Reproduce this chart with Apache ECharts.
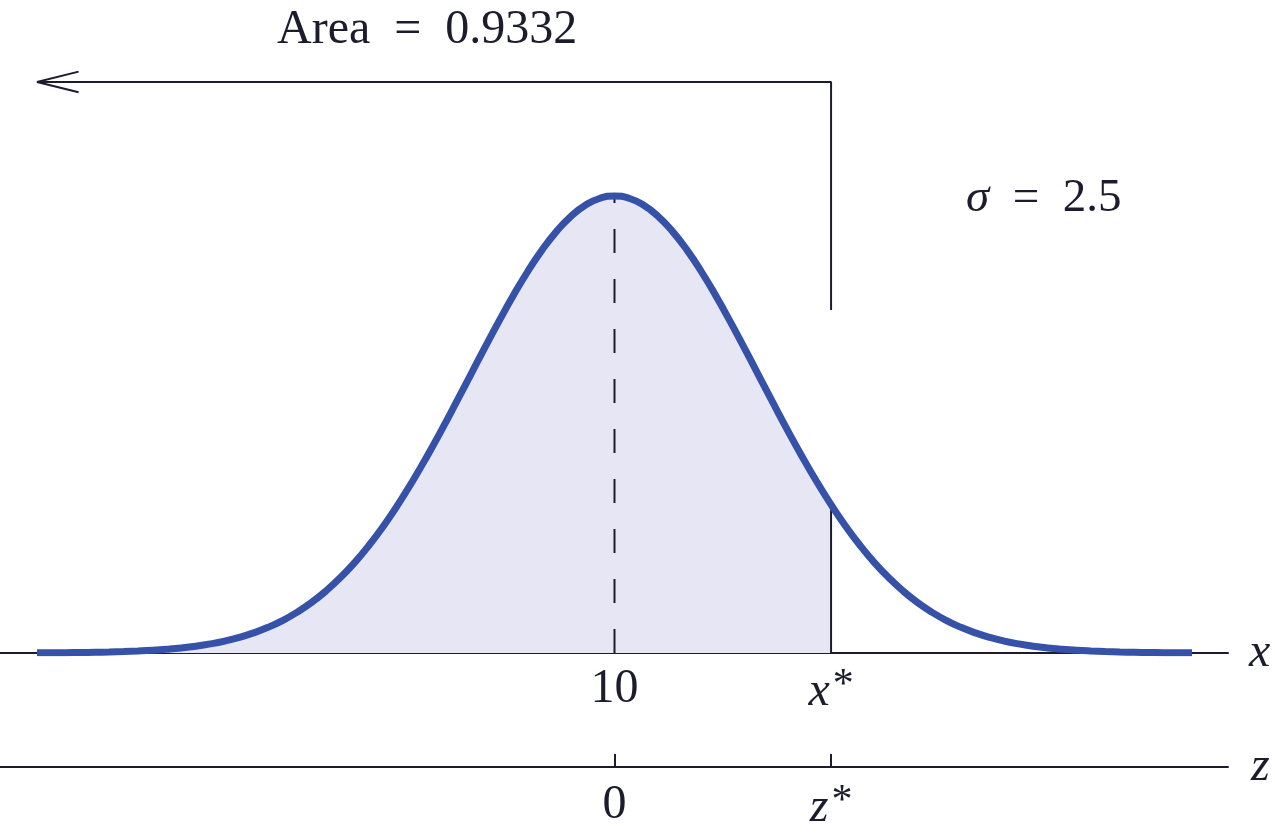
<!DOCTYPE html>
<html>
<head>
<meta charset="utf-8">
<script src="https://cdn.jsdelivr.net/npm/echarts@6/dist/echarts.min.js"></script>
<style>
html,body{margin:0;padding:0;background:#fff;}
#chart{width:1275px;height:833px;}
</style>
</head>
<body>
<div id="chart"></div>
<script>
// ---- data ----
const xValues = [0,0.25,0.5,0.75,1,1.25,1.5,1.75,2,2.25,2.5,2.75,3,3.25,3.5,3.75,4,4.25,4.5,4.75,
  5,5.25,5.5,5.75,6,6.25,6.5,6.75,7,7.25,7.5,7.75,8,8.25,8.5,8.75,9,9.25,9.5,9.75,
  10,10.25,10.5,10.75,11,11.25,11.5,11.75,12,12.25,12.5,12.75,13,13.25,13.5,13.75,
  14,14.25,14.5,14.75,15,15.25,15.5,15.75,16,16.25,16.5,16.75,17,17.25,17.5,17.75,
  18,18.25,18.5,18.75,19,19.25,19.5,19.75,20];
const densityValues = [0.00005,0.00008,0.00012,0.00017,0.00025,0.00035,0.00049,0.00069,0.00095,0.00131,
  0.00177,0.00238,0.00317,0.00417,0.00543,0.00701,0.00896,0.01133,0.01419,0.01759,
  0.02160,0.02625,0.03158,0.03762,0.04437,0.05181,0.05989,0.06855,0.07767,0.08714,
  0.09679,0.10643,0.11588,0.12490,0.13329,0.14083,0.14731,0.15256,0.15642,0.15878,
  0.15958,
  0.15878,0.15642,0.15256,0.14731,0.14083,0.13329,0.12490,0.11588,0.10643,0.09679,
  0.08714,0.07767,0.06855,0.05989,0.05181,0.04437,0.03762,0.03158,0.02625,0.02160,
  0.01759,0.01419,0.01133,0.00896,0.00701,0.00543,0.00417,0.00317,0.00238,0.00177,
  0.00131,0.00095,0.00069,0.00049,0.00035,0.00025,0.00017,0.00012,0.00008,0.00005];
const meanX = 10;
const sigma = 2.5;
const xStar = 13.75;
const zStar = 1.5;
const areaText = 'Area  =  0.9332';
const sigmaSymbol = '\u03C3';
const sigmaRest = '  =  2.5';
const bracketTop = 0.1994;
const bracketBottom = 0.1198;
const xTickValues = [10, 13.75];
const xTickLabels = ['10', 'x*'];
const zTickValues = [0, 1.5];
const zTickLabels = ['0', 'z*'];

// ---- build series data ----
const curveData = xValues.map((x, i) => [x, densityValues[i]]);
const shadeData = curveData.filter(p => p[0] <= xStar);
const peak = densityValues[xValues.indexOf(meanX)];
const starDensity = densityValues[xValues.indexOf(xStar)];

const xMin = -0.6407, xMax = 20.6234;
const zMin = (xMin - meanX) / sigma, zMax = (xMax - meanX) / sigma;

const FONT = 'Liberation Serif';
const INK = '#1c1c2c';

function tickFormatter(values, labels) {
  return function (v) {
    let idx = values.findIndex(t => Math.abs(t - v) < 1e-6);
    if (idx < 0) return '';
    const lab = labels[idx];
    if (lab.indexOf('*') >= 0) {
      return '{i|' + lab.replace('*', '') + '}{s|*}';
    }
    return '{n|' + lab + '}';
  };
}
const richLabel = {
  n: { fontFamily: FONT, fontSize: 48, color: INK },
  i: { fontFamily: FONT, fontSize: 48, fontStyle: 'italic', color: INK },
  s: { fontFamily: FONT, fontSize: 42, color: INK, padding: [0, 0, 12, 3] }
};

const chart = echarts.init(document.getElementById('chart'), null, { renderer: 'canvas' });
chart.setOption({
  animation: false,
  backgroundColor: '#ffffff',
  grid: [
    { left: 0, right: 47, top: 0, bottom: 180, containLabel: false },
    { left: 0, right: 47, top: 700, bottom: 66, containLabel: false }
  ],
  xAxis: [
    {
      gridIndex: 0, type: 'value', min: xMin, max: xMax,
      splitLine: { show: false },
      axisLine: { show: true, lineStyle: { color: INK, width: 2 } },
      axisTick: { show: false },
      axisLabel: {
        show: true, customValues: xTickValues, margin: 12,
        formatter: tickFormatter(xTickValues, xTickLabels), rich: richLabel
      },
      name: 'x', nameLocation: 'end', nameGap: 21,
      nameTextStyle: { fontFamily: FONT, fontSize: 48, fontStyle: 'italic', color: INK, verticalAlign: 'middle' }
    },
    {
      gridIndex: 1, type: 'value', min: zMin, max: zMax,
      splitLine: { show: false },
      axisLine: { show: true, lineStyle: { color: INK, width: 2 } },
      axisTick: { show: true, customValues: zTickValues, inside: true, length: 13, lineStyle: { color: INK, width: 2 } },
      axisLabel: {
        show: true, customValues: zTickValues, margin: 14,
        formatter: tickFormatter(zTickValues, zTickLabels), rich: richLabel
      },
      name: 'z', nameLocation: 'end', nameGap: 23,
      nameTextStyle: { fontFamily: FONT, fontSize: 48, fontStyle: 'italic', color: INK, verticalAlign: 'middle' }
    }
  ],
  yAxis: [
    { gridIndex: 0, type: 'value', min: 0, max: 0.228, show: false },
    { gridIndex: 1, type: 'value', min: 0, max: 1, show: false }
  ],
  series: [
    {
      name: 'shade', type: 'line', xAxisIndex: 0, yAxisIndex: 0,
      data: shadeData, smooth: true, showSymbol: false, symbol: 'none',
      lineStyle: { width: 0, opacity: 0 },
      areaStyle: { color: '#e6e6f4', opacity: 1 },
      z: 1
    },
    {
      name: 'boundary', type: 'line', xAxisIndex: 0, yAxisIndex: 0,
      data: [[xStar, 0], [xStar, starDensity]], symbol: 'none',
      lineStyle: { color: INK, width: 2 }, z: 2
    },
    {
      name: 'meanLine', type: 'line', xAxisIndex: 0, yAxisIndex: 0,
      data: [[meanX, 0], [meanX, peak]], symbol: 'none',
      lineStyle: { color: INK, width: 2, type: [24, 26], dashOffset: 0 }, z: 2
    },
    {
      name: 'curve', type: 'line', xAxisIndex: 0, yAxisIndex: 0,
      data: curveData, smooth: true, showSymbol: false, symbol: 'none',
      lineStyle: { color: '#3552a8', width: 7, cap: 'butt' }, z: 3
    },
    {
      name: 'bracket', type: 'line', xAxisIndex: 0, yAxisIndex: 0, clip: false,
      data: [[xStar, bracketBottom], [xStar, bracketTop], [xValues[0], bracketTop]], symbol: 'none',
      lineStyle: { color: INK, width: 2 }, z: 2
    },
    {
      name: 'arrowhead', type: 'line', xAxisIndex: 0, yAxisIndex: 0, clip: false,
      data: [[xValues[0] + 0.72, bracketTop + 0.0036], [xValues[0], bracketTop], [xValues[0] + 0.72, bracketTop - 0.0036]],
      symbol: 'none',
      lineStyle: { color: INK, width: 2 }, z: 2
    },
    {
      name: 'zAxisHolder', type: 'line', xAxisIndex: 1, yAxisIndex: 1,
      data: [], symbol: 'none'
    }
  ],
  graphic: [
    {
      type: 'text', left: 277, top: 6,
      style: { text: areaText, fontFamily: FONT, fontSize: 48, fill: INK }
    },
    {
      type: 'text', left: 966, top: 175,
      style: {
        text: '{g|' + sigmaSymbol + '}{r|' + sigmaRest + '}',
        rich: {
          g: { fontFamily: FONT, fontSize: 47, fontStyle: 'italic', fill: INK, color: INK },
          r: { fontFamily: FONT, fontSize: 47, fill: INK, color: INK }
        }
      }
    }
  ]
});
</script>
</body>
</html>
